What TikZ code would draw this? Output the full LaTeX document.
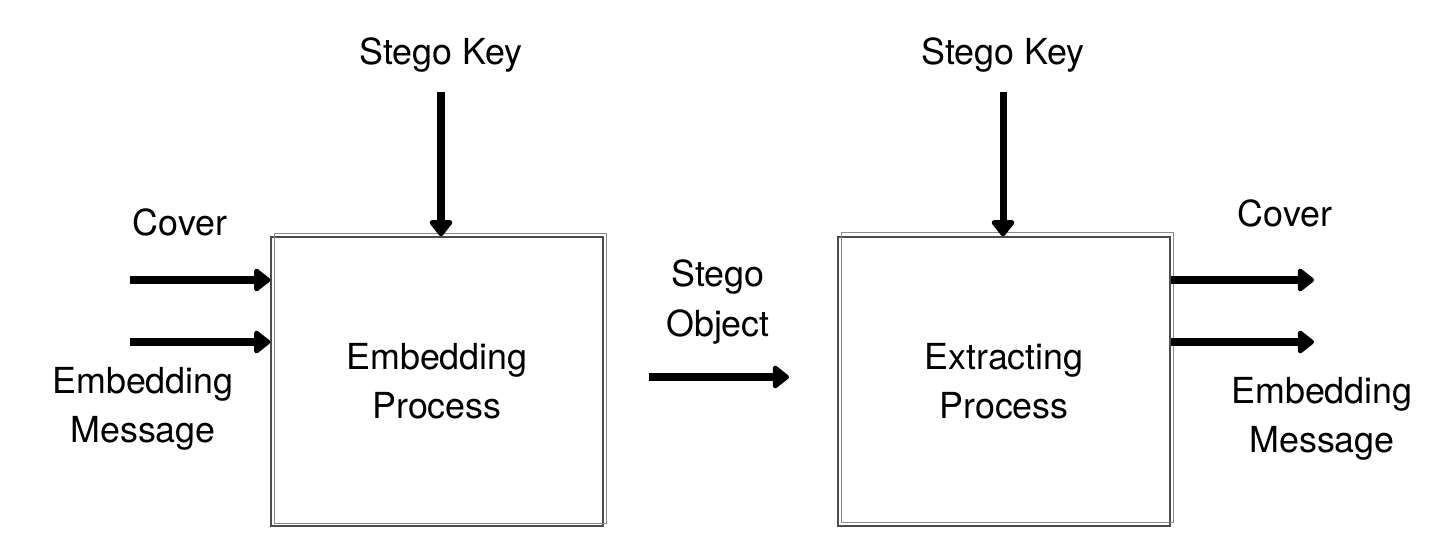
\documentclass[tikz,border=0pt]{standalone}
\usepackage{fontspec}
\setmainfont{TeX Gyre Heros}
\usetikzlibrary{arrows.meta,positioning}

\begin{document}
\begin{tikzpicture}[
        x=0.02cm, y=-0.02cm,
        every node/.style={font=\fontsize{20.4}{28}\selectfont, align=center, inner sep=0pt},
        process/.style={draw=black!70, line width=0.8pt, minimum width=6.64cm, minimum height=5.78cm},
        boxline/.style={draw=black!45, line width=0.8pt},
        flow/.style={line width=4pt, -{Triangle[length=10pt, width=15pt, round]}},
      ]
      \useasboundingbox (0,0) rectangle (1429,547);

      % the two process boxes
      \node[process] (embed) at (437,381.5) {Embedding\\Process};
      \draw[boxline] ([shift={(4,-3)}]embed.south west) rectangle ([shift={(3,-3)}]embed.north east);
      \node[process] (extract) at (1004,381.5) {Extracting\\Process};
      \draw[boxline] ([shift={(4,-4)}]extract.south west) rectangle ([shift={(3,-4)}]extract.north east);

      % labels
      \node (key1) at (441,55) {Stego Key};
      \node (key2) at (1003,55) {Stego Key};
      \node (coverin) at (180,222) {Cover};
      \node (msgin) at (143,409) {Embedding\\Message};
      \node (stego) at (718,302) {Stego\\Object};
      \node (coverout) at (1285,213) {Cover};
      \node (msgout) at (1322,419) {Embedding\\Message};

      % free ends of the connectors
      \coordinate (c1) at (130,280);
      \coordinate (m1) at (130,342);
      \coordinate (s1) at (649,377);
      \coordinate (s2) at (789,377);
      \coordinate (c2) at (1314,280);
      \coordinate (m2) at (1314,342);

      \draw[flow] (key1.south |- 0,92) -- (key1.south |- embed.north);
      \draw[flow] (key2.south |- 0,92) -- (key2.south |- extract.north);
      \draw[flow] (c1) -- (c1 -| embed.west);
      \draw[flow] (m1) -- (m1 -| embed.west);
      \draw[flow] (s1) -- (s2);
      \draw[flow] (c2 -| extract.east) -- (c2);
      \draw[flow] (m2 -| extract.east) -- (m2);

    \end{tikzpicture}
\end{document}
